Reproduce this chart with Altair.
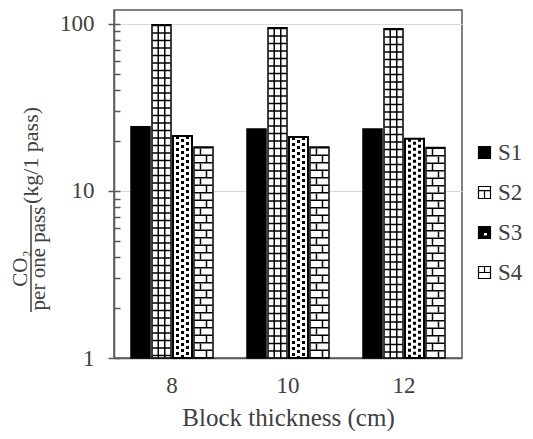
import altair as alt
import pandas as pd

# ---- data ----
thickness = ["8", "10", "12"]
series = ["S1", "S2", "S3", "S4"]
s1_values = [24.2, 23.5, 23.5]
s2_values = [98.6, 94.6, 93.3]
s3_values = [21.3, 21.0, 20.5]
s4_values = [18.3, 18.3, 18.2]
major_ticks = [1, 10, 100]
minor_ticks = [1, 2, 3, 4, 5, 6, 7, 8, 9, 10, 20, 30, 40, 50, 60, 70, 80, 90, 100]

legend_shapes = [
    "M-1,-1H1V1H-1Z",
    "M-1,-1H1V1H-1Z M-1,-0.3H1 M0,-0.3V1",
    "M-1,-1H1V1H-1Z M-0.2,0V0.6H0.5V0Z",
    "M-1,-1H1V1H-1Z M-1,0H1 M0,-1V0",
]
legend_fills = ["black", "white", "black", "white"]

records = []
for i, t in enumerate(thickness):
    for name, vals in zip(series, [s1_values, s2_values, s3_values, s4_values]):
        records.append({"thickness": t, "series": name, "value": vals[i], "base": 1})
df = pd.DataFrame(records)

FONT = "Liberation Serif"
TEXT = "#404040"
LINE = "#595959"
W = 348
H = 348
GROUP_W = W / (len(thickness) - 0.276 + 2 * 0.138) * (1 - 0.276)  # band width of a group

x_axis = alt.Axis(
    title="Block thickness (cm)", labelAngle=0, labelFont=FONT, labelFontSize=23,
    labelColor=TEXT, labelPadding=16, ticks=False, tickSize=0, domainColor=LINE,
    domainWidth=1.5, grid=False, titleFont=FONT, titleFontSize=25,
    titleFontWeight="normal", titleColor=TEXT, titlePadding=8,
)
x_enc = alt.X("thickness:N",
              scale=alt.Scale(domain=thickness, paddingInner=0.276, paddingOuter=0.138),
              axis=x_axis)
y_scale = alt.Scale(type="log", domain=[1, 121])


def xoff(shift=0.0):
    return alt.XOffset(
        "series:N",
        scale=alt.Scale(domain=series, paddingInner=0.095, paddingOuter=0.0475,
                        range=[shift, GROUP_W + shift]),
    )


def y_enc(axis=None):
    return alt.Y("value:Q", scale=y_scale, axis=axis)


def title_axis(text, orient, tx, ty, size=22, **kw):
    return alt.Axis(
        orient=orient, domain=False, ticks=False, labels=False, grid=False,
        title=text, titleFont=FONT, titleFontSize=size, titleFontWeight="normal",
        titleColor=TEXT, titleAngle=270, titleAlign="center", titleBaseline="middle",
        titleX=tx, titleY=ty, **kw,
    )


major_axis = alt.Axis(
    orient="left", values=major_ticks, format="d", tickSize=6, tickColor=LINE,
    tickWidth=1.5, domainColor=LINE, domainWidth=1.5, grid=True, gridColor="#d9d9d9",
    gridWidth=1, labelFont=FONT, labelFontSize=23, labelColor=TEXT, labelPadding=14,
    title=None,
)
minor_axis = alt.Axis(
    orient="right", offset=-W, values=minor_ticks, labels=False, domain=False,
    grid=False, tickSize=6, tickColor=LINE, tickWidth=1.5,
    title="per one pass", titleFont=FONT, titleFontSize=21, titleFontWeight="normal",
    titleColor=TEXT, titleAngle=270, titleAlign="center", titleBaseline="middle",
    titleX=-76, titleY=248,
)
unit_axis = title_axis("(kg/1 pass)", "left", -84, 145, size=22)
co2_axis = title_axis("CO₂", "left", -94, 258, size=21)

base = alt.Chart(df)

bars = base.mark_bar(stroke="black").encode(
    x=x_enc, xOffset=xoff(), y=y_enc(major_axis), y2="base:Q",
    fill=alt.condition(alt.datum.series == "S1", alt.value("black"), alt.value("white")),
    strokeWidth=alt.condition(alt.datum.series == "S3", alt.value(2), alt.value(1.5)),
)


def rule_layer(name, shift, axis=None, **mk):
    return base.transform_filter(alt.datum.series == name).mark_rule(
        stroke="black", **mk
    ).encode(x=x_enc, xOffset=xoff(shift), y=y_enc(axis), y2="base:Q")


s2_h = rule_layer("S2", 0, minor_axis, strokeWidth=18, strokeDash=[1.5, 6])
s2_v1 = rule_layer("S2", -3.25, strokeWidth=1.5)
s2_v2 = rule_layer("S2", 3.25, strokeWidth=1.5)

s3_a = rule_layer("S3", -5, unit_axis, strokeWidth=3, strokeDash=[3, 3])
s3_b = rule_layer("S3", 0, strokeWidth=3, strokeDash=[3, 3], strokeDashOffset=3)
s3_c = rule_layer("S3", 5, strokeWidth=3, strokeDash=[3, 3])

s4_h = rule_layer("S4", 0, strokeWidth=18, strokeDash=[1.5, 6])
s4_d1 = rule_layer("S4", -3, strokeWidth=1.5, strokeDash=[6, 9], strokeDashOffset=13.5)
s4_d2 = rule_layer("S4", 3, strokeWidth=1.5, strokeDash=[6, 9], strokeDashOffset=6)

leg = alt.Legend(
    title=None, orient="none", legendX=359, legendY=131, symbolSize=144,
    symbolStrokeWidth=1.2, labelFont=FONT, labelFontSize=23, labelColor=TEXT,
    labelOffset=2, rowPadding=16, padding=0,
)
legend_layer = base.mark_point(filled=True, size=0, strokeWidth=1.2, opacity=1).encode(
    x=x_enc, y=y_enc(co2_axis),
    fill=alt.Fill("series:N", scale=alt.Scale(domain=series, range=legend_fills), legend=leg),
    stroke=alt.Stroke("series:N", scale=alt.Scale(domain=series, range=["black"] * 4), legend=leg),
    shape=alt.Shape("series:N", scale=alt.Scale(domain=series, range=legend_shapes), legend=leg),
)

frac = alt.Chart(pd.DataFrame({"k": [0]})).mark_rule(stroke=TEXT, strokeWidth=1.5).encode(
    x=alt.value(-83), y=alt.value(195), y2=alt.value(302)
)

chart = alt.layer(
    bars, s2_h, s2_v1, s2_v2, s3_a, s3_b, s3_c, s4_h, s4_d1, s4_d2, legend_layer, frac
).resolve_axis(y="independent").resolve_scale(xOffset="independent").properties(
    width=W, height=H, autosize="none",
    padding={"left": 106, "top": 2, "right": 63, "bottom": 73},
).configure_view(stroke=LINE, strokeWidth=1.5)

chart.save("out.html", embed_options={"renderer": "svg", "actions": False})
